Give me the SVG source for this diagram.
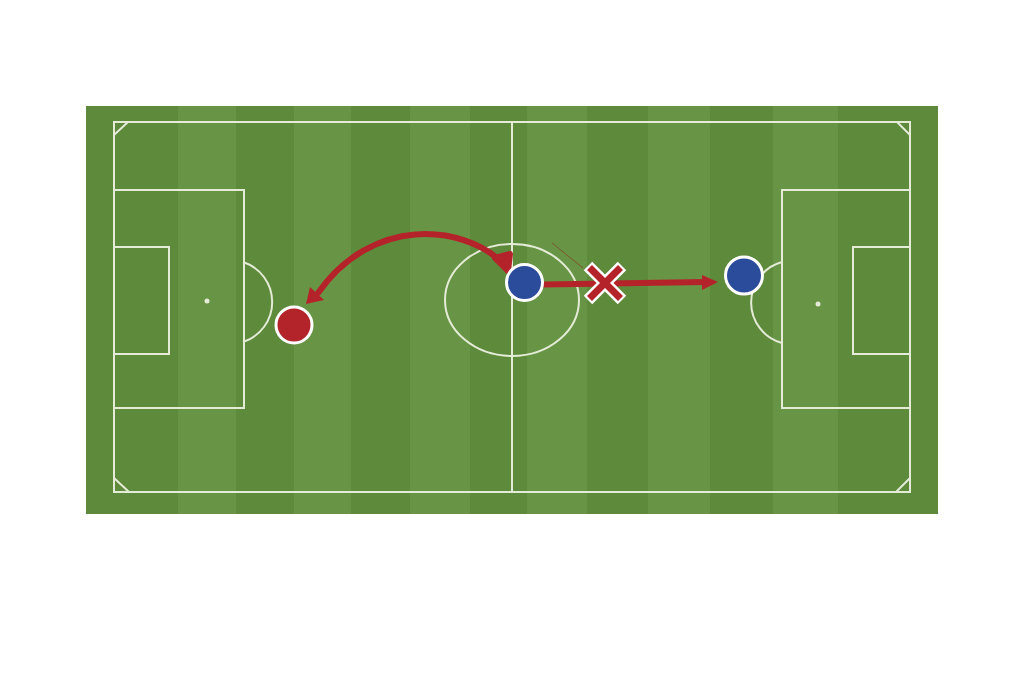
<svg xmlns="http://www.w3.org/2000/svg" width="1024" height="683" viewBox="0 0 1024 683">
<style>
.dark{fill:#5e8a3c}
.light{fill:#689545}
.ln{fill:none;stroke:#e4ebd6;stroke-width:2}
.spot{fill:#e4ebd6}
.arrow{fill:none;stroke:#b5232a;stroke-width:6;stroke-linecap:round}
.head{fill:#b5232a}
.pl{stroke:#ffffff;stroke-width:3}
.red{fill:#b3242a}
.blue{fill:#2b4b9b}
</style>
<rect width="1024" height="683" fill="#ffffff"/>
<g id="pitch">
<rect class="dark" x="86" y="106" width="852" height="408"/>
<rect class="light" x="178" y="106" width="58" height="408"/>
<rect class="light" x="294" y="106" width="57" height="408"/>
<rect class="light" x="410" y="106" width="60" height="408"/>
<rect class="light" x="527" y="106" width="60" height="408"/>
<rect class="light" x="648" y="106" width="62" height="408"/>
<rect class="light" x="773" y="106" width="65" height="408"/>
<rect class="ln" x="114" y="122" width="796" height="370"/>
<line class="ln" x1="512" y1="122" x2="512" y2="492"/>
<ellipse class="ln" cx="512" cy="300" rx="67" ry="56"/>
<rect class="ln" x="114" y="190" width="130" height="218"/>
<rect class="ln" x="114" y="247" width="55" height="107"/>
<path class="ln" d="M243,262 A42,42 0 0 1 243,342"/>
<circle class="spot" cx="207" cy="301" r="2.5"/>
<rect class="ln" x="782" y="190" width="128" height="218"/>
<rect class="ln" x="853" y="247" width="57" height="107"/>
<path class="ln" d="M782,262 A42,42 0 0 0 782,343"/>
<circle class="spot" cx="818" cy="304" r="2.5"/>
<path class="ln" d="M114,135 L128,122 M897,122 L910,135 M114,478 L129,492 M896,492 L910,478"/>
</g>
<g id="connectors">
<path class="arrow" d="M503,263 C462,224 372,216 318,293"/>
<polygon class="head" points="306,304 310,287 324,300"/>
<polygon class="head" points="495,258 510,254 508,271" stroke="#b5232a" stroke-width="6" stroke-linejoin="round"/>
<line x1="552" y1="243" x2="583" y2="268" stroke="#8a2a22" stroke-width="1" opacity="0.6"/>
<line class="arrow" x1="544" y1="284.5" x2="705" y2="282" stroke-width="5" stroke-linecap="butt"/>
<polygon class="head" points="718,282 702,275 702,290"/>
</g>
<g id="x-mark">
<path d="M588,266 L622,300 M622,266 L588,300" stroke="#ffffff" stroke-width="12" fill="none"/>
<path d="M589.5,267.5 L620.5,298.5 M620.5,267.5 L589.5,298.5" stroke="#b5232a" stroke-width="7" fill="none"/>
</g>
<g id="red-player">
<circle class="pl red" cx="294" cy="325" r="18"/>
</g>
<g id="blue-player-1">
<circle class="pl blue" cx="524.5" cy="282.5" r="18"/>
</g>
<g id="blue-player-2">
<circle class="pl blue" cx="744" cy="275.5" r="18.5"/>
</g>
</svg>
